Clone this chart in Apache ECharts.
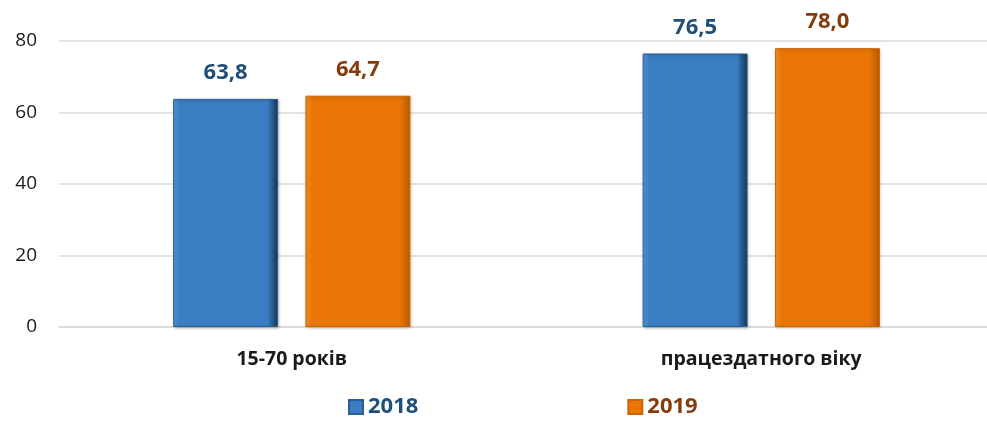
<!DOCTYPE html>
<html><head><meta charset="utf-8">
<script src="https://cdn.jsdelivr.net/npm/echarts@6/dist/echarts.min.js"></script>
<style>html,body{margin:0;padding:0;background:#fff;overflow:hidden}#c{width:996px;height:424px}</style>
</head><body><div id="c"></div>
<script>
var categories = ['15-70 років', 'працездатного віку'];
var series2018 = [63.8, 76.5];
var series2019 = [64.7, 78.0];
var yTicks = [0, 20, 40, 60, 80];

var chart = echarts.init(document.getElementById('c'));
function grad(light, mid, dark) {
  return new echarts.graphic.LinearGradient(0, 0, 1, 0, [
    {offset: 0, color: light}, {offset: 0.06, color: mid},
    {offset: 0.9, color: mid}, {offset: 1, color: dark}
  ]);
}
function fmt(p) { return p.value.toFixed(1).replace('.', ','); }
var font = '"Open Sans", "DejaVu Sans", sans-serif';
chart.setOption({
  animation: false,
  textStyle: {fontFamily: font},
  grid: [
    {left: 59, right: 9, top: 41, bottom: 97},
    {left: 57, right: 0, top: 41, bottom: 97}
  ],
  legend: {
    bottom: 1, left: 343, itemGap: 209, itemWidth: 14, itemHeight: 14,
    icon: 'rect',
    textStyle: {fontSize: 22, fontWeight: 'bold', fontFamily: font},
    data: [
      {name: '2018', textStyle: {color: '#1F4E79'}},
      {name: '2019', textStyle: {color: '#843C0C'}}
    ]
  },
  xAxis: [
    {
      gridIndex: 0, type: 'category', data: categories,
      axisLine: {show: true, lineStyle: {color: '#d9d9d9', width: 1.5}},
      axisTick: {show: false}, axisLabel: {show: false}
    },
    {
      gridIndex: 1, type: 'category', data: categories,
      axisLine: {show: false}, axisTick: {show: false},
      axisLabel: {fontSize: 19.5, fontWeight: 'bold', color: '#1a1a1a', margin: 22, fontFamily: font}
    }
  ],
  yAxis: [
    {
      gridIndex: 0, type: 'value', min: 0, max: 80, interval: 20,
      axisLine: {show: false}, axisTick: {show: false},
      splitLine: {lineStyle: {color: '#d9d9d9', width: 1.5}},
      axisLabel: {fontSize: 19, color: '#1a1a1a', margin: 22, fontFamily: font,
        formatter: function (v) { return yTicks.indexOf(v) >= 0 ? String(v) : ''; }}
    },
    {
      gridIndex: 1, type: 'value', min: 0, max: 80, interval: 20, show: false
    }
  ],
  series: [
    {
      name: '2018', type: 'bar', xAxisIndex: 1, yAxisIndex: 1, data: series2018, barWidth: 105, barGap: '26%',
      itemStyle: {color: grad('#5a9ad8', '#3A7DC2', '#16324f'), borderColor: '#2b5f94', borderWidth: 1,
        shadowColor: 'rgba(0,0,0,0.25)', shadowBlur: 3, shadowOffsetX: 1, shadowOffsetY: 1},
      label: {show: true, position: 'top', distance: 15, formatter: fmt,
        fontSize: 22, fontWeight: 'bold', color: '#1F4E79', fontFamily: font}
    },
    {
      name: '2019', type: 'bar', xAxisIndex: 1, yAxisIndex: 1, data: series2019, barWidth: 105,
      itemStyle: {color: grad('#f79433', '#E87504', '#b85a02'), borderColor: '#c96502', borderWidth: 1,
        shadowColor: 'rgba(0,0,0,0.2)', shadowBlur: 3, shadowOffsetX: 1, shadowOffsetY: 1},
      label: {show: true, position: 'top', distance: 15, formatter: fmt,
        fontSize: 22, fontWeight: 'bold', color: '#843C0C', fontFamily: font}
    }
  ]
});
</script></body></html>
